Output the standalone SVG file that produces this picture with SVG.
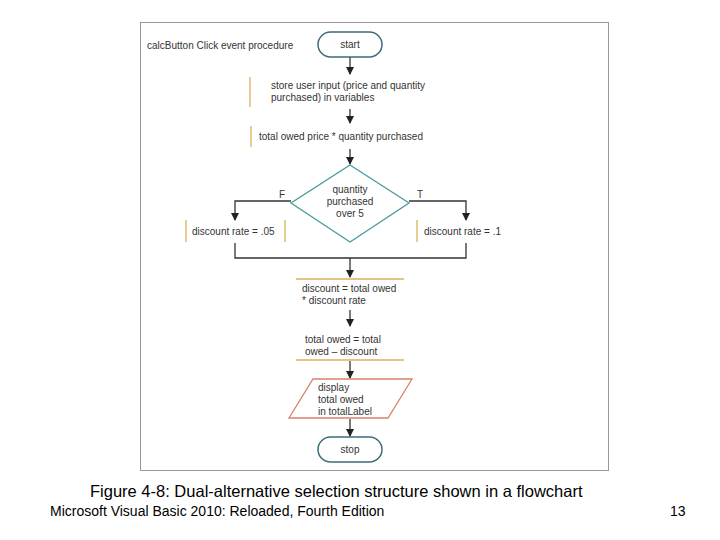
<svg xmlns="http://www.w3.org/2000/svg" width="720" height="540" viewBox="0 0 720 540">
<defs>
<marker id="ar" markerWidth="8" markerHeight="8" refX="7" refY="4" orient="auto" markerUnits="userSpaceOnUse"><path d="M0,0 L8,4 L0,8 z" fill="#222"/></marker>
<style>
text{font-family:"Liberation Sans",Arial,sans-serif;font-size:10px;fill:#333}
.c{stroke:#333;stroke-width:1.3;fill:none}
.tan{stroke:#d9b25a;stroke-width:1.3;fill:none}
.term{fill:#fff;stroke:#3d6b7a;stroke-width:1.5}
</style>
</defs>
<rect width="720" height="540" fill="#fff"/>
<rect x="140.5" y="22.5" width="468" height="448" fill="#fff" stroke="#999"/>
<text x="147" y="49">calcButton Click event procedure</text>
<g id="connectors">
<path class="c" d="M350,57 V74" marker-end="url(#ar)"/>
<path class="c" d="M350,109 V123" marker-end="url(#ar)"/>
<path class="c" d="M350,149 V164" marker-end="url(#ar)"/>
<path class="c" d="M291,201 H235 V220" marker-end="url(#ar)"/>
<path class="c" d="M409,201 H466 V220" marker-end="url(#ar)"/>
<path class="c" d="M235,243 V258 H466 V243"/>
<path class="c" d="M350,258 V277" marker-end="url(#ar)"/>
<path class="c" d="M350,310 V326" marker-end="url(#ar)"/>
<path class="c" d="M350,361 V378" marker-end="url(#ar)"/>
<path class="c" d="M350,419 V436" marker-end="url(#ar)"/>
<text x="279" y="198">F</text>
<text x="417" y="198">T</text>
</g>
<g id="start"><rect class="term" x="318" y="32" width="64" height="25" rx="12.5"/><text x="350" y="48" text-anchor="middle">start</text></g>
<g id="input"><path class="tan" d="M250,77 V107"/><text x="271" y="89">store user input (price and quantity</text><text x="271" y="101">purchased) in variables</text></g>
<g id="total"><path class="tan" d="M251,126 V147"/><text x="259" y="140">total owed    price * quantity purchased</text></g>
<g id="decision"><path d="M350,165 L409,203 L350,242 L291,203 z" fill="#fff" stroke="#4a9a9a" stroke-width="1.3"/><text x="350" y="193" text-anchor="middle">quantity</text><text x="350" y="205" text-anchor="middle">purchased</text><text x="350" y="217" text-anchor="middle">over 5</text></g>
<g id="left"><path class="tan" d="M186,220 V242 M285,220 V242"/><text x="192" y="235">discount rate = .05</text></g>
<g id="right"><path class="tan" d="M417,220 V242"/><text x="424" y="235">discount rate = .1</text></g>
<g id="discount"><path class="tan" d="M296,279 H404"/><text x="302" y="292">discount = total owed</text><text x="302" y="304">* discount rate</text></g>
<g id="subtract"><path class="tan" d="M296,360 H404"/><text x="305" y="343">total owed = total</text><text x="305" y="355">owed – discount</text></g>
<g id="display"><path d="M313,379 H412 L388,418 H289 z" fill="#fff" stroke="#d9826a" stroke-width="1.3"/><text x="318" y="391">display</text><text x="318" y="403">total owed</text><text x="318" y="415">in totalLabel</text></g>
<g id="stop"><rect class="term" x="318" y="437" width="64" height="25" rx="12.5"/><text x="350" y="453" text-anchor="middle">stop</text></g>
<text x="90" y="497" style="font-size:16.5px;fill:#000">Figure 4-8: Dual-alternative selection structure shown in a flowchart</text>
<text x="50" y="516" style="font-size:14px;fill:#000">Microsoft Visual Basic 2010: Reloaded, Fourth Edition</text>
<text x="670" y="516" style="font-size:14px;fill:#000">13</text>
</svg>
